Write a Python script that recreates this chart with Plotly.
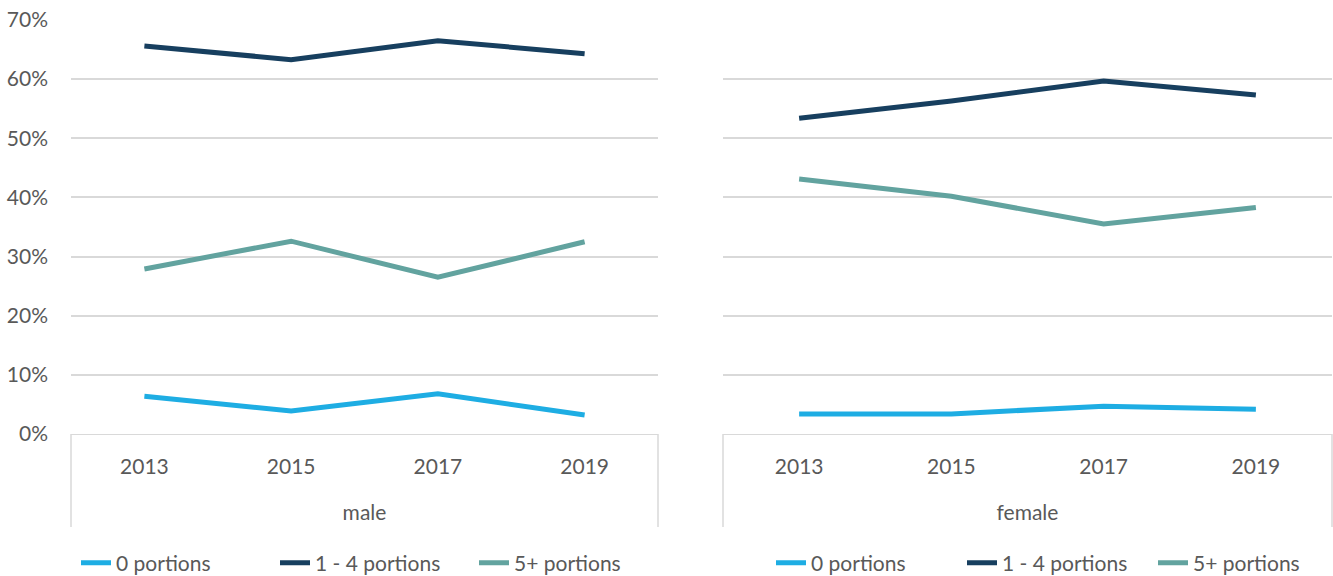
import plotly.graph_objects as go
from plotly.subplots import make_subplots

years = ["2013", "2015", "2017", "2019"]
panels = ["male", "female"]
series_names = ["0 portions", "1 - 4 portions", "5+ portions"]
colors = ["#1EADE3", "#173F5F", "#62A39F"]

male_0 = [0.064, 0.039, 0.068, 0.032]
male_1_4 = [0.656, 0.633, 0.665, 0.643]
male_5plus = [0.279, 0.326, 0.265, 0.325]

female_0 = [0.034, 0.034, 0.047, 0.042]
female_1_4 = [0.534, 0.563, 0.597, 0.573]
female_5plus = [0.431, 0.402, 0.355, 0.383]

y_ticks = [0, 0.1, 0.2, 0.3, 0.4, 0.5, 0.6, 0.7]

data = {"male": [male_0, male_1_4, male_5plus],
        "female": [female_0, female_1_4, female_5plus]}

FONT = "Lato, 'Liberation Sans', sans-serif"
TXT = "#595959"
GRID = "#D9D9D9"

fig = make_subplots(rows=1, cols=2)

for p_i, panel in enumerate(panels):
    for s_i, name in enumerate(series_names):
        fig.add_trace(go.Scatter(
            x=years, y=data[panel][s_i], name=name, mode="lines",
            line=dict(color=colors[s_i], width=5),
            legend="legend" if p_i == 0 else "legend2",
            showlegend=True,
        ), row=1, col=p_i + 1)

W, H = 1333, 576
ydom = [(H - 434) / H, (H - 20) / H]
xdoms = [[71 / W, 658 / W], [723 / W, 1332 / W]]

for i, panel in enumerate(panels):
    xa = "xaxis" if i == 0 else "xaxis2"
    ya = "yaxis" if i == 0 else "yaxis2"
    fig.layout[xa].update(
        domain=xdoms[i], type="category", range=[-0.5, 3.5],
        showgrid=False, showline=True, linecolor=GRID, linewidth=1,
        ticks="", ticklabelstandoff=14, automargin=False,
        tickfont=dict(family=FONT, size=21, color=TXT),
        title=dict(text=panel, standoff=28, font=dict(family=FONT, size=21, color=TXT)),
    )
    fig.layout[ya].update(
        domain=ydom, range=[0, 0.7], tickvals=y_ticks, tickformat=".0%",
        showgrid=True, gridcolor=GRID, gridwidth=1.5, zeroline=False,
        showline=False, ticks="", automargin=False,
        showticklabels=(i == 0), ticklabelstandoff=22,
        tickfont=dict(family=FONT, size=21, color=TXT),
    )
    xref = "x domain" if i == 0 else "x2 domain"
    for xv in (0, 1):
        fig.add_shape(type="line", xref=xref, yref="paper", x0=xv, x1=xv,
                      y0=ydom[0], y1=(H - 527) / H,
                      line=dict(color=GRID, width=1.5))

legend_common = dict(orientation="h", yanchor="middle", y=(H - 563) / H,
                     xanchor="left", font=dict(family=FONT, size=21, color=TXT),
                     bgcolor="rgba(0,0,0,0)", itemwidth=30)
fig.update_layout(
    width=W, height=H,
    margin=dict(l=0, r=0, t=0, b=0, autoexpand=False),
    paper_bgcolor="white", plot_bgcolor="white",
    legend=dict(x=76 / W, entrywidth=154, **legend_common),
    legend2=dict(x=771 / W, entrywidth=146, **legend_common),
)

fig.write_html("out.html", config={"displayModeBar": False},
               post_script="document.body.style.margin='0';document.body.style.overflow='hidden';")
